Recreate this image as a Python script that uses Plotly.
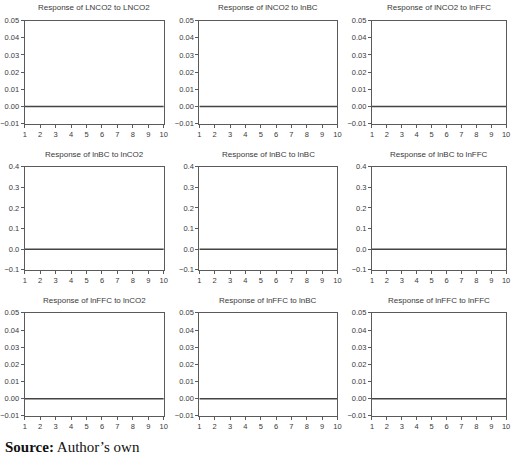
import plotly.graph_objects as go

W, H = 520, 462

periods = [1, 2, 3, 4, 5, 6, 7, 8, 9, 10]

titles = [
    "Response of LNCO2 to LNCO2", "Response of lNCO2 to lnBC", "Response of lNCO2 to lnFFC",
    "Response of lnBC to lnCO2", "Response of lnBC to lnBC", "Response of lnBC to lnFFC",
    "Response of lnFFC to lnCO2", "Response of lnFFC to lnBC", "Response of lnFFC to lnFFC",
]

responses = [
    [0.0, 0.0, 0.0, 0.0, 0.0, 0.0, 0.0, 0.0, 0.0, 0.0],
    [0.0, 0.0, 0.0, 0.0, 0.0, 0.0, 0.0, 0.0, 0.0, 0.0],
    [0.0, 0.0, 0.0, 0.0, 0.0, 0.0, 0.0, 0.0, 0.0, 0.0],
    [0.0, 0.0, 0.0, 0.0, 0.0, 0.0, 0.0, 0.0, 0.0, 0.0],
    [0.0, 0.0, 0.0, 0.0, 0.0, 0.0, 0.0, 0.0, 0.0, 0.0],
    [0.0, 0.0, 0.0, 0.0, 0.0, 0.0, 0.0, 0.0, 0.0, 0.0],
    [0.0, 0.0, 0.0, 0.0, 0.0, 0.0, 0.0, 0.0, 0.0, 0.0],
    [0.0, 0.0, 0.0, 0.0, 0.0, 0.0, 0.0, 0.0, 0.0, 0.0],
    [0.0, 0.0, 0.0, 0.0, 0.0, 0.0, 0.0, 0.0, 0.0, 0.0],
]

# y scale per row
row_ticks = [
    [-0.01, 0.00, 0.01, 0.02, 0.03, 0.04, 0.05],
    [-0.1, 0.0, 0.1, 0.2, 0.3, 0.4],
    [-0.01, 0.00, 0.01, 0.02, 0.03, 0.04, 0.05],
]
row_fmt = [".2f", ".1f", ".2f"]

# panel boxes in pixels (left, right) / (top, bottom)
COLS = [(22, 163), (199, 339), (374, 510)]
ROWS = [(17, 122), (166, 271), (315, 420)]

FRAME = "#5a5a5a"
TEXT = "#3a3a3a"

fig = go.Figure()
annotations = []
layout = {}

for i in range(9):
    r, c = divmod(i, 3)
    n = "" if i == 0 else str(i + 1)
    xl, xr = COLS[c]
    yt, yb = ROWS[r]
    fig.add_trace(go.Scatter(
        x=periods, y=responses[i], mode="lines",
        line=dict(color="#444444", width=1.5),
        xaxis="x" + n, yaxis="y" + n, showlegend=False, cliponaxis=False,
    ))
    axis_common = dict(
        showline=True, mirror=True, linecolor=FRAME, linewidth=1,
        ticks="outside", ticklen=3, tickwidth=1, tickcolor=FRAME,
        showgrid=False, zeroline=False, ticklabeloverflow="allow",
        tickfont=dict(family="Liberation Sans, Arial", size=7.5, color=TEXT),
    )
    # a hair of slack past 10 so the last tick label is never dropped
    layout["xaxis" + n] = dict(
        axis_common, domain=[xl / W, xr / W], range=[0.999, 10.001],
        tickvals=periods, anchor="y" + n,
    )
    ticks = row_ticks[r]
    layout["yaxis" + n] = dict(
        axis_common, domain=[1 - yb / H, 1 - yt / H],
        range=[ticks[0], ticks[-1]], tickvals=ticks, tickformat=row_fmt[r],
        anchor="x" + n,
    )
    annotations.append(dict(
        text=titles[i], xref="paper", yref="paper",
        x=(xl + xr) / 2 / W, y=1 - (yt - 13) / H,
        xanchor="center", yanchor="middle", showarrow=False,
        font=dict(family="Liberation Sans, Arial", size=8, color=TEXT),
    ))

annotations.append(dict(
    text="<b>Source:</b> Author\u2019s own", xref="paper", yref="paper",
    x=0, y=1 - 452 / H, xanchor="left", yanchor="middle", showarrow=False,
    font=dict(family="Liberation Serif, Times New Roman", size=15, color="#111111"),
))

fig.update_layout(
    width=W, height=H,
    margin=dict(l=0, r=0, t=0, b=0),
    paper_bgcolor="white", plot_bgcolor="white",
    annotations=annotations,
    **layout,
)

# drop the default page margin so the figure sits at the window corner
fig.write_html(
    "out.html", config={"displayModeBar": False},
    post_script="document.body.style.margin='0';"
                "document.body.style.overflow='hidden';"
                "Plotly.redraw(document.getElementById('{plot_id}'));",
)
